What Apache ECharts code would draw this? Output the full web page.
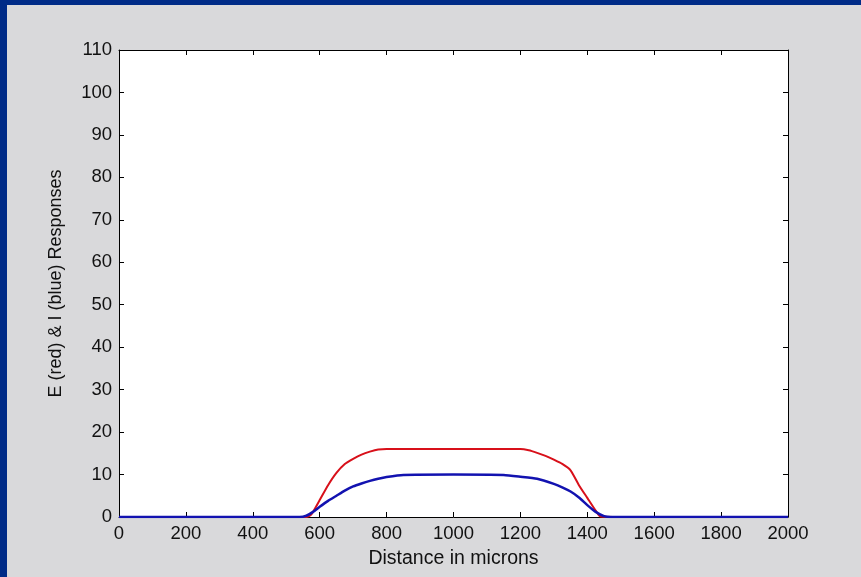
<!DOCTYPE html>
<html>
<head>
<meta charset="utf-8">
<script src="https://cdn.jsdelivr.net/npm/echarts@6/dist/echarts.min.js"></script>
<style>
  html, body { margin: 0; padding: 0; background: #002b87; }
  #chart { position: absolute; left: 7px; top: 5px; width: 854px; height: 572px; background: #d9d9db; }
</style>
</head>
<body>
<div id="chart"></div>
<script>
// distance (microns) and responses
var redX = [160, 300, 500, 560, 575, 600, 625, 650, 675, 700, 725, 750, 775, 800,
  1000, 1200, 1225, 1250, 1275, 1300, 1325, 1350, 1375, 1400, 1425, 1440, 1500, 1700, 1840];
var redY = [0, 0, 0, 0, 0.6, 4, 7.5, 10.4, 12.5, 13.7, 14.7, 15.4, 15.9, 16,
  16, 16, 15.7, 15.1, 14.4, 13.5, 12.5, 11, 7.5, 4.5, 1.5, 0.1, 0, 0, 0];
var blueX = [0, 300, 540, 560, 580, 600, 625, 650, 675, 700, 725, 750, 775, 800, 850,
  1000, 1150, 1200, 1250, 1300, 1325, 1350, 1375, 1400, 1425, 1450, 1470, 1700, 2000];
var blueY = [0, 0, 0, 0.3, 1.2, 2.4, 3.8, 5, 6.2, 7.2, 7.9, 8.5, 9, 9.4, 9.9,
  10, 9.9, 9.5, 9, 7.8, 7, 6, 4.6, 2.8, 1.2, 0.2, 0, 0, 0];

var xTicks = [0, 200, 400, 600, 800, 1000, 1200, 1400, 1600, 1800, 2000];
var yTicks = [0, 10, 20, 30, 40, 50, 60, 70, 80, 90, 100, 110];

function pairs(xs, ys) {
  return xs.map(function (x, i) { return [x, ys[i]]; });
}

function initChart() {
  var myChart = echarts.init(document.getElementById('chart'));
  var font = 'Liberation Sans, Arial, sans-serif';
  var plain = function (v) { return String(v); };
  var axisCommon = {
    type: 'value',
    axisLine: { show: true, onZero: false, lineStyle: { color: '#000', width: 1 } },
    axisTick: { show: true, inside: true, length: 5, lineStyle: { color: '#000' } },
    splitLine: { show: false }
  };
  var option = {
    animation: false,
    grid: { left: 112, top: 45, right: 73, bottom: 60, backgroundColor: '#fff', show: true, borderWidth: 0 },
    xAxis: [
      Object.assign({}, axisCommon, {
        min: xTicks[0], max: xTicks[xTicks.length - 1], interval: xTicks[1] - xTicks[0],
        name: 'Distance in microns', nameLocation: 'middle', nameGap: 32,
        nameTextStyle: { color: '#111', fontFamily: font, fontSize: 19.5 },
        axisLabel: { color: '#111', fontFamily: font, fontSize: 18.5, margin: 7, formatter: plain }
      }),
      Object.assign({}, axisCommon, {
        min: xTicks[0], max: xTicks[xTicks.length - 1], interval: xTicks[1] - xTicks[0],
        position: 'top', axisLabel: { show: false }
      })
    ],
    yAxis: [
      Object.assign({}, axisCommon, {
        min: yTicks[0], max: yTicks[yTicks.length - 1], interval: yTicks[1] - yTicks[0],
        name: 'E (red) & I (blue) Responses', nameLocation: 'middle', nameGap: 54,
        nameTextStyle: { color: '#111', fontFamily: font, fontSize: 18 },
        axisLabel: { color: '#111', fontFamily: font, fontSize: 18.5, margin: 7, formatter: plain }
      }),
      Object.assign({}, axisCommon, {
        min: yTicks[0], max: yTicks[yTicks.length - 1], interval: yTicks[1] - yTicks[0],
        position: 'right', axisLabel: { show: false }
      })
    ],
    series: [
      {
        name: 'E', type: 'line', data: pairs(redX, redY),
        showSymbol: false, smooth: 0.2,
        lineStyle: { color: '#d8101a', width: 2 }
      },
      {
        name: 'I', type: 'line', data: pairs(blueX, blueY),
        showSymbol: false, smooth: 0.2,
        lineStyle: { color: '#1212b0', width: 2.5 }
      }
    ]
  };
  myChart.setOption(option);
}

document.addEventListener('DOMContentLoaded', function () {
  initChart();
});
</script>
</body>
</html>
